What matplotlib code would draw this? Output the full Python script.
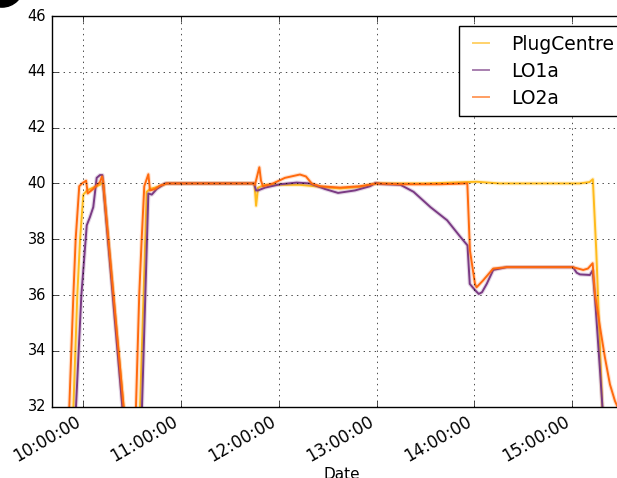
import matplotlib
matplotlib.use('Agg')
import matplotlib.pyplot as plt
import matplotlib.dates as mdates
from matplotlib.lines import Line2D
from matplotlib.patches import Ellipse
import pandas as pd

plt.style.use('classic')

START = pd.Timestamp('2016-03-01 10:00:00')

# Temperature logs, time given as minutes after 10:00
plug_min = [-8.2, -6.1, -3.7, -2.0, 0.0, 2.3, 6.0, 10.2, 12.1, 24.7, 28.7,
            32.9, 34.8, 38.9, 40.9, 47.0, 51.2, 80.0, 104.3, 105.0, 106.0,
            107.2, 111.5, 132.9, 145.2, 157.5, 169.8, 180.0, 210.0, 241.3,
            255.5, 280.0, 304.5, 310.6, 312.6, 314.7, 318.4, 320.5]
plug_val = [28.0, 32.0, 36.0, 38.0, 39.6, 39.75, 39.85, 39.95, 40.05, 32.0, 29.0,
            30.0, 32.0, 39.7, 39.8, 39.9, 40.0, 40.0, 40.0, 40.0, 39.2,
            39.85, 39.95, 39.95, 39.88, 39.82, 39.88, 40.0, 40.0, 40.06,
            40.0, 40.0, 40.0, 40.05, 40.15, 37.6, 32.0, 29.0]

lo1a_min = [-6.9, -4.5, -1.2, 2.1, 4.1, 6.1, 8.2, 10.2, 11.7, 23.9, 27.4,
            33.6, 36.0, 39.9, 42.0, 45.0, 50.1, 80.0, 104.7, 106.0, 107.2,
            111.5, 120.7, 130.9, 139.1, 148.3, 156.3, 166.7, 175.9, 179.3,
            182.4, 194.6, 202.6, 213.0, 223.2, 231.4, 235.7, 237.1, 240.6,
            242.6, 244.6, 247.5, 251.5, 259.8, 300.4, 302.7, 304.7, 310.8,
            312.5, 313.9, 317.0, 318.6, 320.7]
lo1a_val = [28.0, 32.0, 36.0, 38.5, 38.8, 39.15, 40.2, 40.3, 40.3, 32.0, 29.0,
            29.0, 32.0, 39.64, 39.6, 39.8, 40.0, 40.0, 40.0, 39.75, 39.75,
            39.85, 39.97, 40.03, 40.0, 39.8, 39.66, 39.75, 39.9, 40.02,
            39.98, 39.95, 39.7, 39.15, 38.68, 38.08, 37.78, 36.4, 36.16,
            36.04, 36.1, 36.4, 36.9, 37.0, 37.0, 36.8, 36.74, 36.72,
            36.88, 35.92, 33.3, 31.9, 29.0]

lo2a_min = [-11.2, -8.6, -6.1, -4.7, -2.5, -0.8, 1.7, 2.7, 6.0, 10.2, 11.5,
            12.1, 24.7, 28.7, 31.1, 32.3, 34.3, 35.8, 37.4, 39.9, 40.9,
            44.0, 47.0, 51.2, 80.0, 104.3, 105.3, 108.0, 109.0, 110.2, 113.3,
            116.4, 123.7, 132.9, 136.6, 140.1, 145.2, 157.5, 169.8, 180.0,
            194.3, 218.8, 235.6, 237.2, 240.3, 241.3, 245.2, 251.5, 259.8,
            300.4, 306.7, 309.6, 312.5, 313.9, 317.0, 320.0, 323.1, 326.2,
            329.3, 332.0]
lo2a_val = [28.0, 32.0, 36.0, 38.0, 39.9, 40.0, 40.1, 39.64, 39.8, 40.05, 40.25,
            40.1, 32.0, 29.0, 29.5, 32.0, 36.0, 38.0, 39.9, 40.33, 39.75,
            39.8, 39.92, 40.0, 40.0, 40.0, 39.95, 40.58, 40.1, 39.9, 39.95,
            40.0, 40.2, 40.32, 40.25, 40.0, 39.9, 39.85, 39.9, 40.0,
            39.97, 39.97, 40.0, 37.6, 36.4, 36.28, 36.52, 36.95, 37.0,
            37.0, 36.9, 36.95, 37.14, 36.05, 34.85, 33.77, 32.8, 32.2,
            31.8, 31.5]

series = [
    ('PlugCentre', plug_min, plug_val, '#ffbb1c'),
    ('LO1a', lo1a_min, lo1a_val, '#7a3a84'),
    ('LO2a', lo2a_min, lo2a_val, '#ff6a0e'),
]


def to_time(mins):
    return START + pd.to_timedelta(mins, unit='min')


fig = plt.figure(figsize=(6.17, 4.78), dpi=100, facecolor='white')
ax = fig.add_axes([0.0838, 0.1492, 0.942, 0.8173])

handles = []
for name, mins, vals, col in series:
    t = to_time(mins)
    ax.plot(t, vals, color=col, lw=3.0, alpha=0.2, solid_joinstyle='round')
    ax.plot(t, vals, color=col, lw=1.4, solid_joinstyle='round')
    handles.append(Line2D([], [], color=col, lw=1.4, alpha=0.65, label=name))

ax.set_ylim(32, 46)
ax.set_xlim(to_time(-19.4), to_time(337.2))
ax.xaxis.set_major_locator(mdates.HourLocator())
ax.xaxis.set_major_formatter(mdates.DateFormatter('%H:%M:%S'))
for lab in ax.get_xticklabels():
    lab.set_rotation(30)
    lab.set_ha('right')
ax.tick_params(axis='x', labelsize=12)
ax.tick_params(axis='y', labelsize=10.5)
ax.grid(True)
ax.set_xlabel('Date', fontsize=11, labelpad=1)

leg = ax.legend(handles=handles, loc='upper right', fontsize=13.5,
                fancybox=False, borderaxespad=0.55, handlelength=1.45,
                handletextpad=0.9, labelspacing=0.42, borderpad=0.45)
leg.get_frame().set_edgecolor('black')

# dark corner mark at the top left
fig.add_artist(Ellipse((2 / 617, 1 + 14.5 / 478), 2 * 21.6 / 617,
                       2 * 21.6 / 478, transform=fig.transFigure,
                       color='black', zorder=10))

fig.savefig('out.png', dpi=100, facecolor='white')
